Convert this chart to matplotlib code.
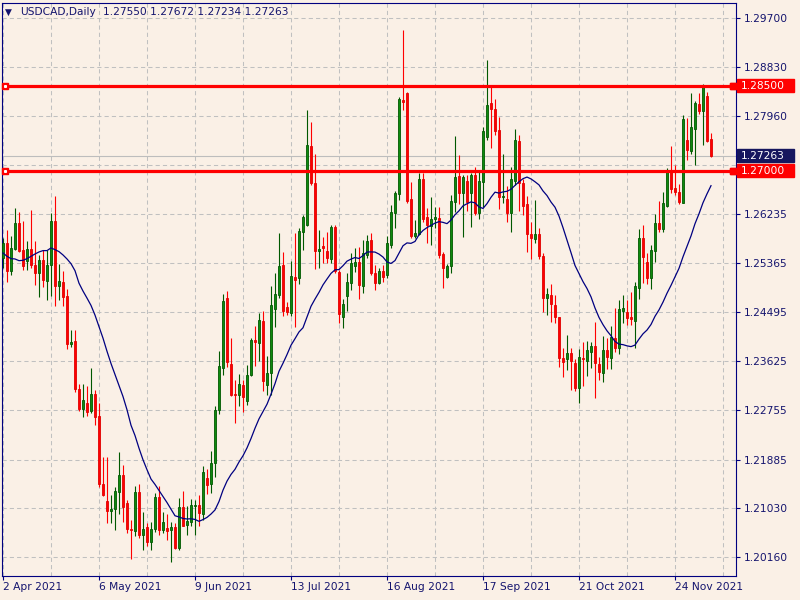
import numpy as np
import pandas as pd
import matplotlib
matplotlib.use("Agg")
import matplotlib.pyplot as plt
import matplotlib.transforms as mtransforms
from matplotlib.patches import Rectangle

# ---------------- data (USDCAD daily) ----------------
symbol = "USDCAD,Daily"
start_date = "2021-04-02"

opens = [1.25452, 1.25719, 1.25216, 1.25618, 1.26074, 1.25600, 1.25393, 1.25612, 1.25334, 1.25186,
         1.25423, 1.25038, 1.25322, 1.26115, 1.24949, 1.25026, 1.24783, 1.23937, 1.23984, 1.23132,
         1.22783, 1.22877, 1.22747, 1.23043, 1.22652, 1.21456, 1.21143, 1.20971, 1.21001, 1.21308,
         1.21604, 1.21114, 1.20660, 1.20613, 1.21315, 1.20554, 1.20683, 1.20418, 1.20654, 1.21220,
         1.20631, 1.20677, 1.20631, 1.20689, 1.20312, 1.21043, 1.20719, 1.20778, 1.21061, 1.21079,
         1.20913, 1.21557, 1.21450, 1.21822, 1.22760, 1.23504, 1.24742, 1.23574, 1.23049, 1.23032,
         1.23208, 1.22916, 1.23376, 1.24007, 1.23948, 1.24344, 1.23199, 1.23418, 1.24550, 1.24804,
         1.25335, 1.24585, 1.24484, 1.25110, 1.25092, 1.25906, 1.26036, 1.27434, 1.26774, 1.25582,
         1.25664, 1.25576, 1.25440, 1.26001, 1.25210, 1.24414, 1.24785, 1.25015, 1.25316, 1.25375,
         1.24962, 1.25505, 1.25771, 1.25181, 1.25003, 1.25222, 1.25151, 1.25682, 1.26243, 1.26579,
         1.28243, 1.28372, 1.26496, 1.25847, 1.25877, 1.26850, 1.26172, 1.26018, 1.26136, 1.26154,
         1.25517, 1.25109, 1.25304, 1.26449, 1.26897, 1.26597, 1.26815, 1.26597, 1.26921, 1.26254,
         1.26806, 1.27602, 1.28192, 1.28092, 1.27720, 1.26523, 1.26499, 1.26257, 1.26823, 1.27525,
         1.26776, 1.26405, 1.25874, 1.25785, 1.25874, 1.25490, 1.24741, 1.24800, 1.24623, 1.24404,
         1.23679, 1.23661, 1.23767, 1.23590, 1.23148, 1.23690, 1.23637, 1.23797, 1.23900, 1.23572,
         1.23413, 1.23823, 1.23680, 1.24044, 1.23865, 1.24520, 1.24490, 1.24402, 1.24343, 1.24927,
         1.25800, 1.25387, 1.25092, 1.25582, 1.26065, 1.25971, 1.26378, 1.26968, 1.26685, 1.26614,
         1.26431, 1.27535, 1.27352, 1.27735, 1.28178, 1.28060, 1.28319, 1.27550]

highs = [1.25808, 1.25956, 1.25837, 1.26340, 1.26269, 1.26115, 1.25748, 1.26293, 1.25748, 1.25512,
         1.25600, 1.25600, 1.26240, 1.26548, 1.25352, 1.25216, 1.24908, 1.24180, 1.24180, 1.23221,
         1.23221, 1.23185, 1.23499, 1.23114, 1.22877, 1.21930, 1.21930, 1.21249, 1.21397, 1.22013,
         1.21782, 1.21173, 1.20819, 1.21409, 1.21456, 1.20955, 1.20760, 1.20778, 1.21291, 1.21409,
         1.20955, 1.20919, 1.20778, 1.20760, 1.21202, 1.21332, 1.21055, 1.21185, 1.21173, 1.21250,
         1.21775, 1.21716, 1.22040, 1.22837, 1.23802, 1.24819, 1.24861, 1.24034, 1.23297, 1.23403,
         1.23297, 1.23565, 1.24037, 1.24243, 1.24479, 1.24509, 1.23724, 1.24951, 1.25187, 1.25895,
         1.25564, 1.24679, 1.25399, 1.25888, 1.25989, 1.26213, 1.28071, 1.27865, 1.27293, 1.25947,
         1.25829, 1.25906, 1.26036, 1.26036, 1.25239, 1.24720, 1.25181, 1.25535, 1.25635, 1.25652,
         1.25771, 1.25859, 1.25889, 1.25328, 1.25281, 1.25328, 1.25847, 1.26390, 1.26638, 1.28308,
         1.29488, 1.28396, 1.26803, 1.26125, 1.26951, 1.26951, 1.26331, 1.26526, 1.26361, 1.26361,
         1.25552, 1.25340, 1.26567, 1.27611, 1.27275, 1.26921, 1.26921, 1.26951, 1.27069, 1.26980,
         1.27779, 1.28959, 1.28487, 1.28269, 1.27956, 1.27295, 1.26729, 1.27060, 1.27738, 1.27632,
         1.26847, 1.26552, 1.26098, 1.26481, 1.25980, 1.25537, 1.24918, 1.24989, 1.24800, 1.24416,
         1.23856, 1.24092, 1.23856, 1.23661, 1.23844, 1.23974, 1.23991, 1.23974, 1.24320, 1.23708,
         1.24070, 1.24032, 1.24250, 1.24563, 1.24708, 1.24797, 1.24708, 1.24844, 1.25033, 1.25965,
         1.26036, 1.25546, 1.25682, 1.26225, 1.26461, 1.26626, 1.27039, 1.27434, 1.27098, 1.26762,
         1.27983, 1.27924, 1.28366, 1.28237, 1.28366, 1.28532, 1.28396, 1.27672]

lows = [1.25275, 1.25020, 1.25156, 1.25600, 1.25559, 1.25245, 1.25245, 1.25275, 1.24979, 1.24754,
        1.24931, 1.24712, 1.24772, 1.24594, 1.24712, 1.24594, 1.23836, 1.23872, 1.23084, 1.22741,
        1.22640, 1.22658, 1.22700, 1.22492, 1.21397, 1.21232, 1.20758, 1.20758, 1.20640, 1.20924,
        1.20776, 1.20583, 1.20123, 1.20524, 1.20495, 1.20276, 1.20359, 1.20276, 1.20595, 1.20554,
        1.20583, 1.20465, 1.20064, 1.20300, 1.20288, 1.20701, 1.20554, 1.20701, 1.20554, 1.20701,
        1.20819, 1.21273, 1.21291, 1.21574, 1.22689, 1.23386, 1.23521, 1.23002, 1.22530, 1.22825,
        1.22719, 1.22857, 1.23358, 1.23548, 1.23636, 1.23093, 1.23022, 1.23022, 1.24226, 1.24745,
        1.24420, 1.24443, 1.24425, 1.24236, 1.24992, 1.25593, 1.26018, 1.26744, 1.25251, 1.25281,
        1.25357, 1.25357, 1.25357, 1.25181, 1.24307, 1.24219, 1.24514, 1.24885, 1.25198, 1.24726,
        1.24827, 1.25446, 1.25151, 1.24885, 1.24986, 1.25033, 1.25092, 1.25635, 1.25977, 1.26479,
        1.28071, 1.26420, 1.25800, 1.25800, 1.25859, 1.26095, 1.25712, 1.25682, 1.25977, 1.25446,
        1.24927, 1.25092, 1.25181, 1.26272, 1.26408, 1.25818, 1.26290, 1.26007, 1.26213, 1.26142,
        1.26363, 1.27543, 1.27396, 1.27632, 1.26322, 1.26422, 1.26098, 1.25921, 1.26747, 1.26286,
        1.26216, 1.25567, 1.25437, 1.25726, 1.25437, 1.24505, 1.24446, 1.24328, 1.24298, 1.23531,
        1.23354, 1.23472, 1.23118, 1.23100, 1.22882, 1.23189, 1.23372, 1.23502, 1.22970, 1.23295,
        1.23266, 1.23485, 1.23485, 1.23796, 1.23755, 1.24295, 1.24266, 1.24266, 1.23865, 1.24726,
        1.25004, 1.24992, 1.24903, 1.25387, 1.25918, 1.25918, 1.26360, 1.26596, 1.26567, 1.26408,
        1.26431, 1.27187, 1.27293, 1.27098, 1.28001, 1.27452, 1.27499, 1.27234]

closes = [1.25719, 1.25216, 1.25630, 1.26074, 1.25583, 1.25304, 1.25612, 1.25322, 1.25186, 1.25423,
          1.25056, 1.25334, 1.26115, 1.24949, 1.25050, 1.24754, 1.23925, 1.23966, 1.23126, 1.22777,
          1.22937, 1.22729, 1.23043, 1.22640, 1.21456, 1.21261, 1.20971, 1.21001, 1.21320, 1.21604,
          1.21042, 1.20654, 1.20636, 1.21315, 1.20554, 1.20660, 1.20418, 1.20660, 1.21220, 1.20631,
          1.20778, 1.20613, 1.20689, 1.20312, 1.21043, 1.20713, 1.20796, 1.21079, 1.21079, 1.20937,
          1.21663, 1.21427, 1.21822, 1.22760, 1.23539, 1.24691, 1.23604, 1.23032, 1.23030, 1.23220,
          1.22990, 1.23388, 1.24007, 1.23960, 1.24361, 1.23270, 1.23418, 1.24627, 1.24816, 1.25317,
          1.24510, 1.24496, 1.25133, 1.25068, 1.25930, 1.26172, 1.27452, 1.26785, 1.25582, 1.25605,
          1.25635, 1.25458, 1.26001, 1.25222, 1.24455, 1.24632, 1.25027, 1.25357, 1.25375, 1.24974,
          1.25535, 1.25759, 1.25181, 1.25003, 1.25222, 1.25121, 1.25712, 1.26260, 1.26597, 1.28266,
          1.28219, 1.26467, 1.25847, 1.25889, 1.26850, 1.26136, 1.26036, 1.26136, 1.26172, 1.25505,
          1.25281, 1.25304, 1.26461, 1.26880, 1.26608, 1.26880, 1.26449, 1.26921, 1.26254, 1.26815,
          1.27703, 1.28163, 1.28092, 1.27703, 1.26523, 1.26552, 1.26257, 1.26847, 1.27543, 1.26788,
          1.26381, 1.25874, 1.25803, 1.25874, 1.25496, 1.24741, 1.24812, 1.24635, 1.24416, 1.23679,
          1.23608, 1.23767, 1.23637, 1.23159, 1.23696, 1.23667, 1.23826, 1.23897, 1.23595, 1.23443,
          1.23826, 1.23693, 1.24050, 1.23861, 1.24543, 1.24561, 1.24384, 1.24366, 1.24956, 1.25800,
          1.25475, 1.25104, 1.25593, 1.26065, 1.25971, 1.26419, 1.26968, 1.26673, 1.26626, 1.26449,
          1.27906, 1.27364, 1.27765, 1.28190, 1.28060, 1.28473, 1.27523, 1.27263]

# moving-average values for the first bars (history before the window)
ma_period = 20
ma_head = [1.25541, 1.25482, 1.25441, 1.25435, 1.25405, 1.25411, 1.25441, 1.25482, 1.25523,
           1.25559, 1.25583, 1.25583, 1.25630, 1.25600, 1.25565, 1.25506, 1.25435, 1.25352, 1.25227]

levels = [1.28500, 1.27000]
price_ticks = [1.29700, 1.28830, 1.27960, 1.27095, 1.26235, 1.25365, 1.24495,
               1.23625, 1.22755, 1.21885, 1.21030, 1.20160]
# the 1.27095 scale label is hidden behind the price boxes in the reference
price_labels = ["1.29700", "1.28830", "1.27960", "", "1.26235", "1.25365", "1.24495",
                "1.23625", "1.22755", "1.21885", "1.21030", "1.20160"]

# ---------------- styling ----------------
BG = "#FAF0E6"
NAVY = "#000080"
TXT = "#14146E"
GRID = "#C0C0C0"
BULL_FACE, BULL_EDGE = "#0E8A0E", "#005800"
BEAR_FACE, BEAR_EDGE = "#FF0000", "#E00000"
FS = 7.7

W, H = 800, 600
fig = plt.figure(figsize=(W / 100, H / 100), dpi=100, facecolor=BG)
ax_l, ax_r, ax_b, ax_t = 2, 736, 576, 3      # pixel frame of the chart
ax = fig.add_axes([ax_l / W, 1 - ax_b / H, (ax_r - ax_l) / W, (ax_b - ax_t) / H])
ax.set_facecolor(BG)

n = len(closes)
x = np.arange(n)
o = np.array(opens); h = np.array(highs); l = np.array(lows); c = np.array(closes)

# axis limits (candle spacing 4 px, first candle at px 3)
ax.set_xlim((ax_l - 3) / 4, (ax_r - 3) / 4)
step = (price_ticks[0] - price_ticks[-1]) / (49 * 11)      # price per pixel
ax.set_ylim(price_ticks[-1] - (ax_b - 557) * step, price_ticks[0] + (18 - ax_t) * step)

# grid
for p in price_ticks:
    ax.axhline(p, color=GRID, lw=0.75, ls=(0, (4, 3)), zorder=0.5)
for gx in range(0, int((ax_r - 3) / 4) + 1, 12):
    ax.axvline(gx, color=GRID, lw=0.75, ls=(0, (4, 3)), zorder=0.5)

# current price line
ax.axhline(c[-1], color="#BDBDBD", lw=0.8, zorder=0.8)

# candles
up = c >= o
ax.vlines(x[up], l[up], h[up], color=BULL_EDGE, lw=0.8, zorder=2)
ax.vlines(x[~up], l[~up], h[~up], color=BEAR_FACE, lw=0.8, zorder=2)
ax.bar(x[up], c[up] - o[up], bottom=o[up], width=0.74, color=BULL_FACE,
       edgecolor=BULL_EDGE, linewidth=0.6, zorder=3)
ax.bar(x[~up], c[~up] - o[~up], bottom=o[~up], width=0.74, color=BEAR_FACE,
       edgecolor=BEAR_EDGE, linewidth=0.6, zorder=3)

# moving average
ma = pd.Series(closes).rolling(ma_period).mean().to_numpy()
ma[:len(ma_head)] = ma_head
ax.plot(x, ma, color=NAVY, lw=0.9, zorder=4)

# horizontal level lines with end markers
x_left, x_right = (5 - 3) / 4, (733 - 3) / 4
for lev in levels:
    ax.axhline(lev, color="#FF0000", lw=2.3, zorder=5)
    ax.plot([x_left, x_right], [lev, lev], ls="none", marker="s", ms=4.5,
            mfc="#FF0000", mec="#FF0000", zorder=6, clip_on=False)
    ax.plot([x_left, x_right], [lev, lev], ls="none", marker="s", ms=1.2,
            mfc="white", mec="white", zorder=7, clip_on=False)

# axes frame / ticks
for s in ax.spines.values():
    s.set_color(NAVY)
    s.set_linewidth(0.8)

dates = pd.bdate_range(start_date, periods=n)
xt = list(range(0, n, 24))
ax.set_xticks(xt)
ax.set_xticklabels([f"{dates[i].day} {dates[i].strftime('%b %Y')}" for i in xt])
for t in ax.get_xticklabels():
    t.set_horizontalalignment("left")
ax.tick_params(axis="x", direction="out", length=3, width=0.8, color=NAVY,
               labelcolor=TXT, labelsize=FS, pad=1.5)

ax.yaxis.tick_right()
ax.set_yticks(price_ticks)
ax.set_yticklabels(price_labels)
ax.tick_params(axis="y", direction="out", length=3, width=0.8, color=NAVY,
               labelcolor=TXT, labelsize=FS, pad=2.5)

# price boxes on the right scale
btr = mtransforms.blended_transform_factory(fig.transFigure, ax.transData)
box_h = 13 * step
for val, col in [(levels[0], "#FF0000"), (c[-1], "#16165E"), (levels[1], "#FF0000")]:
    fig.add_artist(Rectangle((737 / W, val - box_h / 2), (794 - 737) / W, box_h,
                             transform=btr, facecolor=col, edgecolor=col, zorder=20))
    fig.text(741 / W, val, f"{val:.5f}", transform=btr, color="white", fontsize=FS,
             va="center", ha="left", zorder=21)
    if col == "#FF0000":
        fig.add_artist(Rectangle((730 / W, val - 3 * step), 6 / W, 6 * step, transform=btr,
                                 facecolor="#FF0000", edgecolor="#FF0000", zorder=20))

# header
fig.text(5 / W, 1 - 12 / H, "\u25BC", color=TXT, fontsize=6.5, va="center", ha="left")
fig.text(20 / W, 1 - 12 / H, symbol, color=TXT, fontsize=FS, va="center", ha="left")
fig.text(103 / W, 1 - 12 / H,
         f"{opens[-1]:.5f} {highs[-1]:.5f} {lows[-1]:.5f} {closes[-1]:.5f}",
         color=TXT, fontsize=FS, va="center", ha="left")

fig.savefig("out.png", dpi=100, facecolor=BG)
